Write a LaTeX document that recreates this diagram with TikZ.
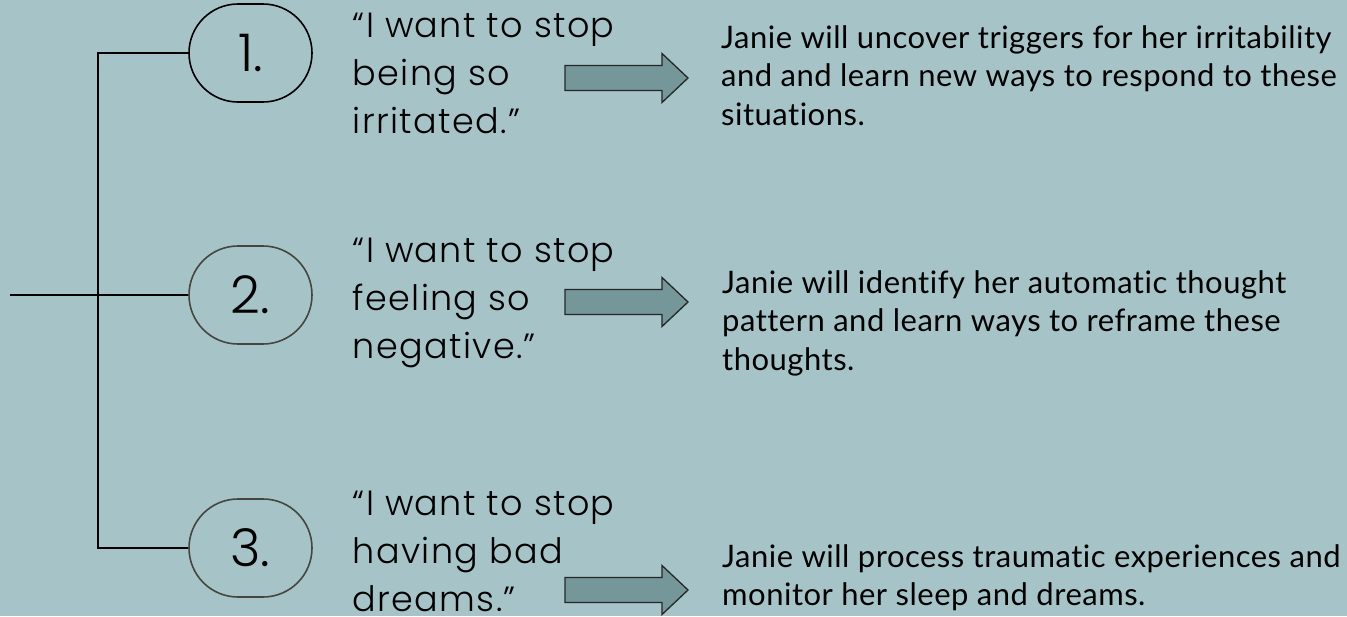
\documentclass[tikz,border=0pt]{standalone}
\usepackage{fontspec}
\setmainfont{Lato}[LetterSpace=1.6, Ligatures=NoCommon]
\newfontfamily\quotefont{Poppins}[UprightFont={* Light}, LetterSpace=3.9]
\newfontfamily\numfont{Poppins}[UprightFont={* Light}]
\definecolor{bgteal}{HTML}{A6C4C8}
\definecolor{arrowfill}{HTML}{75979A}
\definecolor{ringgray}{HTML}{46463F}
\begin{document}
\begin{tikzpicture}[x=1pt,y=-1pt,
  numbox/.style={draw, line width=1.6pt, rectangle, rounded corners=49pt,
    minimum width=123pt, minimum height=98pt, inner sep=0pt,
    font=\numfont\fontsize{52}{52}\selectfont},
  quote/.style={anchor=base west, inner sep=0pt,
    font=\quotefont\fontsize{35}{48}\selectfont},
  goal/.style={anchor=base west, inner sep=0pt,
    font=\fontsize{31}{38.5}\selectfont},
  link/.style={line width=1.6pt, black},
  arrowshape/.style={draw=black!85, line width=1.3pt, fill=arrowfill, line join=miter}]

% background
\fill[bgteal] (0,0) rectangle (1347,616);
\useasboundingbox (0,0) rectangle (1347,616);

% numbered steps
\node[numbox, draw=black]     (c1) at (250.5,53)  {1.};
\node[numbox, draw=ringgray]  (c2) at (250.5,295) {2.};
\node[numbox, draw=ringgray]  (c3) at (250.5,548) {3.};

% tree lines
\coordinate (root) at (10,295);
\draw[link] (c1.west) -- ++(-90,0) |- (c3.west);
\draw[link] (root) -- (c2.west);

% client statements
\node[quote] (q1) at (352.5,37)  {\vtop{\hbox{“I want to stop}\hbox{being so}\hbox{irritated.”}}};
\node[quote] (q2) at (352.5,262) {\vtop{\hbox{“I want to stop}\hbox{feeling so}\hbox{negative.”}}};
\node[quote] (q3) at (352.5,515) {\vtop{\hbox{“I want to stop}\hbox{having bad}\hbox{dreams.”}}};

% block arrows
\coordinate (a1) at (565,78);
\coordinate (a2) at (565,302);
\coordinate (a3) at (565,590);
\foreach \a in {a1,a2,a3}{
  \draw[arrowshape] (\a) ++(0,-12.5) -- ++(97,0) -- ++(0,-12) -- ++(26,24.5)
    -- ++(-26,24.5) -- ++(0,-12) -- ++(-97,0) -- cycle;
}

% treatment goals
\node[goal] (g1) at (721,48)  {\vtop{\hbox{Janie will uncover triggers for her irritability}\hbox{and and learn new ways to respond to these}\hbox{situations.}}};
\node[goal] (g2) at (722,293) {\vtop{\hbox{Janie will identify her automatic thought}\hbox{pattern and learn ways to reframe these}\hbox{thoughts.}}};
\node[goal] (g3) at (722,567) {\vtop{\hbox{Janie will process traumatic experiences and}\hbox{monitor her sleep and dreams.}}};
\end{tikzpicture}
\end{document}
